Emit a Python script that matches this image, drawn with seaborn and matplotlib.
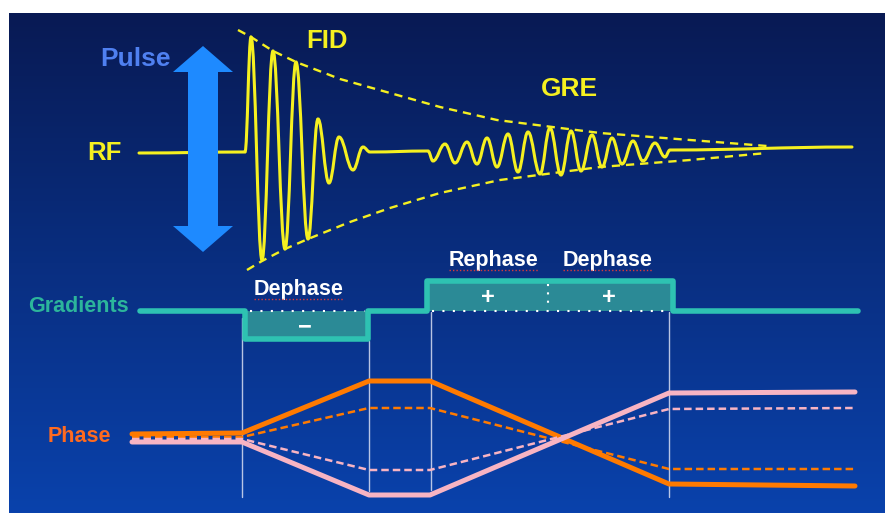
import numpy as np
import matplotlib
matplotlib.use("Agg")
import matplotlib.pyplot as plt
import seaborn as sns
from matplotlib.path import Path
from matplotlib.patches import PathPatch, FancyArrow

# Everything is laid out in picture units (x to the right, y downwards)

# RF signal: baseline, FID peaks, flat, GRE echo peaks, flat tail
rf_x = [139, 245, 251, 262, 273, 285, 296, 308, 318, 329, 339, 353, 363, 370,
        428, 433, 445, 455, 467, 477, 487, 497, 508, 518, 528, 540, 550, 561,
        571, 581, 592, 602, 612, 622, 633, 643, 655, 665, 670, 852]
rf_y = [153, 152, 37, 260, 51, 249, 62, 239, 119, 183, 137, 170, 147, 152,
        151, 161, 144, 163, 142, 164, 138, 167, 134, 172, 132, 174, 128, 175,
        131, 171, 135, 167, 138, 164, 141, 161, 143, 157, 150, 147]

# T2* envelope (dashed)
env_up_x = [238, 251, 273, 296, 340, 390, 440, 497, 600, 690, 767]
env_up_y = [30, 37, 51, 62, 79, 93, 107, 120, 133, 140, 146]
env_lo_x = [247, 262, 285, 308, 350, 390, 440, 500, 600, 690, 767]
env_lo_y = [270, 261, 249, 239, 222, 208, 193, 180, 167, 160, 153]

# Gradient waveform
grad_x = [140, 245, 245, 368, 368, 427, 427, 673, 673, 858]
grad_y = [311, 311, 339, 339, 311, 311, 281, 281, 311, 311]
lobe_start = [245, 427]
lobe_end = [368, 673]
lobe_top = [311, 281]
lobe_bottom = [339, 311]
lobe_signs = ["−", "+", "+"]
sign_x = [305, 488, 609]
sign_y = [327, 297, 297]

# Phase of spins
phase_x = [132, 242, 369, 430, 669, 855]
orange_solid = [434, 433, 381, 381, 484, 486]
orange_dashed = [437, 437, 408, 408, 469, 469]
pink_dashed = [439, 439, 470, 470, 409, 408]
pink_solid = [442, 442, 495, 495, 393, 392]

# Thin timing lines
guide_x = [242, 369, 431, 669]
guide_top = [318, 341, 312, 312]
guide_bottom = [497, 491, 490, 497]

YELLOW = "#f5f020"
TEAL = "#2ec2b2"
TEAL_FILL = "#2b8a96"
ORANGE = "#ff7a00"
PINK = "#f8b4c3"

sns.set_theme(style="white")
plt.rcParams["font.family"] = ["Liberation Sans", "DejaVu Sans"]

fig = plt.figure(figsize=(8.85, 5.13), dpi=100, facecolor="white")
ax = fig.add_axes([0, 0, 1, 1])
ax.set_xlim(0, 885)
ax.set_ylim(513, 0)
ax.axis("off")

# background: dark navy to brighter blue
top_c = np.array([8, 26, 84]) / 255
bot_c = np.array([10, 66, 172]) / 255
t = np.linspace(0, 1, 256)[:, None, None]
grad_img = top_c * (1 - t) + bot_c * t
ax.imshow(grad_img, extent=(9, 885, 513, 13), origin="upper", aspect="auto",
          zorder=0)


def smooth_path(xs, ys):
    verts = [(xs[0], ys[0])]
    codes = [Path.MOVETO]
    for i in range(1, len(xs)):
        x0, y0, x1, y1 = xs[i - 1], ys[i - 1], xs[i], ys[i]
        d = (x1 - x0) * 0.4
        verts += [(x0 + d, y0), (x1 - d, y1), (x1, y1)]
        codes += [Path.CURVE4] * 3
    return Path(verts, codes)


# RF
ax.add_patch(PathPatch(smooth_path(rf_x, rf_y), fill=False, edgecolor=YELLOW,
                       lw=2.2, zorder=3, capstyle="round"))
sns.lineplot(x=env_up_x, y=env_up_y, color=YELLOW, lw=1.7,
             ax=ax, zorder=3).lines[-1].set_dashes((3.5, 2.5))
sns.lineplot(x=env_lo_x, y=env_lo_y, color=YELLOW, lw=1.7,
             ax=ax, zorder=3).lines[-1].set_dashes((3.5, 2.5))

# RF pulse arrow
for dy in (-104, 102):
    ax.add_patch(FancyArrow(203, 150, 0, dy, width=30, head_width=60,
                            head_length=26, length_includes_head=True,
                            color="#1e8aff", lw=0, zorder=4))

# gradient lobes
for x0, x1, y0, y1 in zip(lobe_start, lobe_end, lobe_top, lobe_bottom):
    ax.fill_between([x0, x1], y0, y1, color=TEAL_FILL, lw=0, zorder=2)
ax.plot([250, 365], [311, 311], color="white", lw=1.5, ls=(0, (1, 4)), zorder=3)
ax.plot([432, 670], [311, 311], color="white", lw=1.5, ls=(0, (1, 4)), zorder=3)
ax.plot([548, 548], [284, 309], color="white", lw=1.5, ls=(0, (1, 3)), zorder=3)
sns.lineplot(x=grad_x, y=grad_y, estimator=None, sort=False, color=TEAL,
             lw=4, ax=ax, zorder=4)
for s, sx, sy in zip(lobe_signs, sign_x, sign_y):
    ax.text(sx, sy, s, color="white", fontsize=17, fontweight="bold",
            ha="center", va="center", zorder=5)

# timing guides
for gx, g0, g1 in zip(guide_x, guide_top, guide_bottom):
    ax.plot([gx, gx], [g0, g1], color="#d8def2", lw=1, alpha=0.85, zorder=2)

# phase curves
sns.lineplot(x=phase_x, y=orange_solid, color=ORANGE, lw=3.6, ax=ax, zorder=3)
sns.lineplot(x=phase_x, y=orange_dashed, color=ORANGE, lw=1.8,
             ax=ax, zorder=3).lines[-1].set_dashes((3, 1.6))
sns.lineplot(x=phase_x, y=pink_dashed, color=PINK, lw=1.8,
             ax=ax, zorder=3).lines[-1].set_dashes((3, 1.6))
sns.lineplot(x=phase_x, y=pink_solid, color=PINK, lw=3.6, ax=ax, zorder=3)

# labels
bold = dict(fontweight="bold", ha="center", va="baseline", zorder=6)
ax.text(135, 66, "Pulse", color="#4f80f0", fontsize=19, **bold)
ax.text(104, 160, "RF", color=YELLOW, fontsize=18.5, **bold)
ax.text(327, 48, "FID", color=YELLOW, fontsize=18.5, **bold)
ax.text(569, 96, "GRE", color=YELLOW, fontsize=19, **bold)
ax.text(78, 312, "Gradients", color="#2cb59b", fontsize=15.5, **bold)
ax.text(79, 442, "Phase", color="#ff6a1f", fontsize=15.5, **bold)
for lx, ly, lab in [(299, 295, "Dephase"), (494, 266, "Rephase"),
                    (608, 266, "Dephase")]:
    ax.text(lx, ly, lab, color="white", fontsize=15.5, **bold)
    ax.plot([lx - 45, lx + 45], [ly + 4, ly + 4], color="#d83a3a", lw=1,
            ls=(0, (1, 1.5)), zorder=6)

fig.savefig("out.png", dpi=100, facecolor="white")
